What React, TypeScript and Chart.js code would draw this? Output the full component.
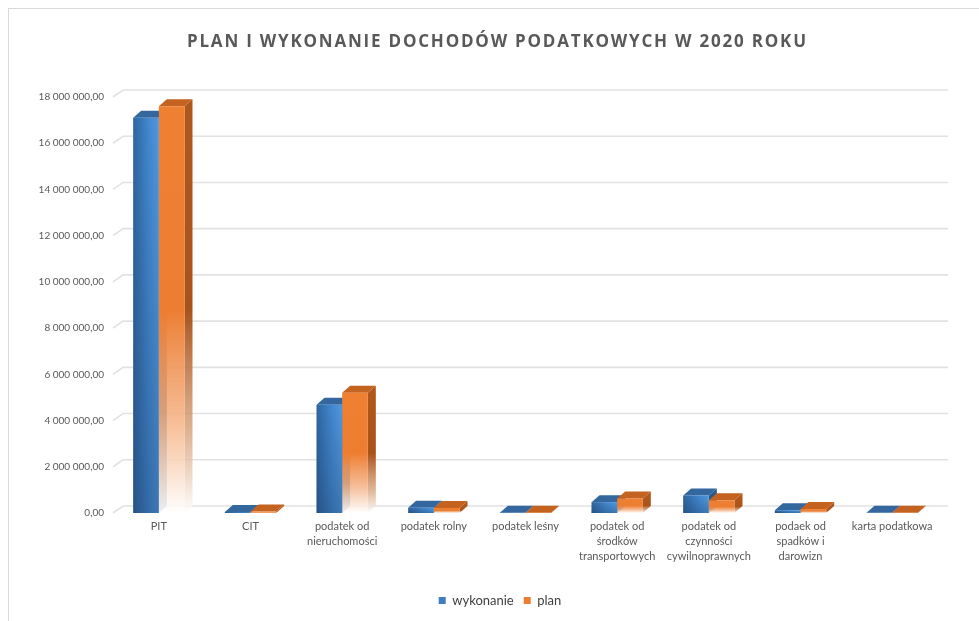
import React, { useEffect, useRef } from "react";
import { Chart, registerables } from "chart.js";

Chart.register(...registerables);

const TITLE = "PLAN I WYKONANIE DOCHODÓW PODATKOWYCH W 2020 ROKU";
const CATEGORIES: (string | string[])[] = [
  "PIT",
  "CIT",
  ["podatek od", "nieruchomości"],
  "podatek rolny",
  "podatek leśny",
  ["podatek od", "środków", "transportowych"],
  ["podatek od", "czynności", "cywilnoprawnych"],
  ["podaek od", "spadków i", "darowizn"],
  "karta podatkowa",
];
const SERIES_NAMES = ["wykonanie", "plan"];
const WYKONANIE = [17100000, 45000, 4680000, 230000, 12000, 470000, 760000, 120000, 8000];
const PLAN = [17600000, 60000, 5200000, 220000, 12000, 630000, 550000, 170000, 8000];
const Y_MIN = 0;
const Y_MAX = 18000000;
const Y_STEP = 2000000;

const CAT_PCT = 0.56;
const BAR_DX = 8;
const BAR_DY = -7;
const WALL_DX = 10;
const WALL_DY = -7;

const fmt = (v: number) =>
  Math.round(v).toString().replace(/\B(?=(\d{3})+(?!\d))/g, " ") + ",00";

function blueFront(c: any) {
  if (c.type !== "data") return "#4285c9";
  const chart = c.chart;
  const xs = chart.scales.x;
  if (!xs || !chart.chartArea) return "#4285c9";
  const center = xs.getPixelForValue(c.dataIndex);
  const bw = (xs.width / CATEGORIES.length) * CAT_PCT / 2;
  const l = center - bw;
  const g = chart.ctx.createLinearGradient(l, 0, l + bw, 0);
  g.addColorStop(0, "#2f65a0");
  g.addColorStop(0.6, "#4287cf");
  g.addColorStop(1, "#4f98e0");
  return g;
}

function orangeFront(c: any) {
  if (c.type !== "data") return "#ed7d31";
  const chart = c.chart;
  const ys = chart.scales.y;
  if (!ys || !chart.chartArea) return "#ed7d31";
  const top = ys.getPixelForValue(c.raw);
  const base = ys.getPixelForValue(0);
  const g = chart.ctx.createLinearGradient(0, top, 0, base);
  g.addColorStop(0, "#ef7f31");
  g.addColorStop(0.5, "#ed7d31");
  g.addColorStop(0.75, "rgba(243,170,120,0.85)");
  g.addColorStop(1, "rgba(255,255,255,0.9)");
  return g;
}

const threeD = {
  id: "threeD",
  beforeDatasetsDraw(chart: any) {
    const ctx = chart.ctx;
    const ys = chart.scales.y;
    const area = chart.chartArea;
    ctx.save();
    ctx.strokeStyle = "#e2e2e2";
    ctx.lineWidth = 1.6;
    ys.ticks.forEach((t: any) => {
      const y = ys.getPixelForValue(t.value);
      ctx.beginPath();
      ctx.moveTo(area.left, y);
      ctx.lineTo(area.left + WALL_DX, y + WALL_DY);
      ctx.lineTo(area.right + WALL_DX, y + WALL_DY);
      ctx.stroke();
    });
    chart.data.datasets.forEach((ds: any, d: number) => {
      const meta = chart.getDatasetMeta(d);
      meta.data.forEach((el: any) => {
        const { x, y, base, width } = el.getProps(["x", "y", "base", "width"], true);
        const l = x - width / 2;
        const r = x + width / 2;
        ctx.beginPath();
        ctx.moveTo(r, y);
        ctx.lineTo(r + BAR_DX, y + BAR_DY);
        ctx.lineTo(r + BAR_DX, base + BAR_DY);
        ctx.lineTo(r, base);
        ctx.closePath();
        if (d === 0) {
          ctx.fillStyle = "#2a5887";
        } else {
          const g = ctx.createLinearGradient(0, y, 0, base);
          g.addColorStop(0, "#b0571c");
          g.addColorStop(0.5, "#a9531b");
          g.addColorStop(0.8, "rgba(215,160,120,0.8)");
          g.addColorStop(1, "rgba(255,255,255,0.9)");
          ctx.fillStyle = g;
        }
        ctx.fill();
        ctx.beginPath();
        ctx.moveTo(l, y);
        ctx.lineTo(l + BAR_DX, y + BAR_DY);
        ctx.lineTo(r + BAR_DX, y + BAR_DY);
        ctx.lineTo(r, y);
        ctx.closePath();
        ctx.fillStyle = d === 0 ? "#33679d" : "#c4621f";
        ctx.fill();
      });
    });
    ctx.restore();
  },
  afterDatasetsDraw(chart: any) {
    const ctx = chart.ctx;
    const meta = chart.getDatasetMeta(0);
    ctx.save();
    meta.data.forEach((el: any) => {
      const { x, y, base, width } = el.getProps(["x", "y", "base", "width"], true);
      const l = x - width / 2;
      if (base - y < 1) return;
      const g = ctx.createLinearGradient(0, y, 0, base);
      g.addColorStop(0, "rgba(15,35,65,0)");
      g.addColorStop(1, "rgba(15,35,65,0.28)");
      ctx.fillStyle = g;
      ctx.fillRect(l, y, width, base - y);
    });
    ctx.restore();
  },
};

const spacedTitle = {
  id: "spacedTitle",
  afterDraw(chart: any) {
    const c = chart.ctx;
    c.save();
    c.font = 'bold 17px "Open Sans"';
    c.fillStyle = "#595959";
    c.textAlign = "left";
    c.textBaseline = "alphabetic";
    const w = c.measureText(TITLE).width;
    const target = 619;
    const sp = Math.max(0, (target - w) / (TITLE.length - 1));
    (c as any).letterSpacing = sp + "px";
    c.fillText(TITLE, 487.5 - target / 2, 37.7);
    c.restore();
  },
};

export default function App() {
  const ref = useRef<HTMLCanvasElement | null>(null);

  useEffect(() => {
    if (!ref.current) return;
    const chart = new Chart(ref.current, {
      type: "bar",
      data: {
        labels: CATEGORIES as any,
        datasets: [
          {
            label: SERIES_NAMES[0],
            data: WYKONANIE,
            backgroundColor: blueFront as any,
            borderWidth: 0,
            categoryPercentage: CAT_PCT,
            barPercentage: 1,
          },
          {
            label: SERIES_NAMES[1],
            data: PLAN,
            backgroundColor: orangeFront as any,
            borderWidth: 0,
            categoryPercentage: CAT_PCT,
            barPercentage: 1,
          },
        ],
      },
      options: {
        animation: false,
        responsive: false,
        layout: { padding: { top: 88, bottom: 4, left: 12, right: 0 } },
        plugins: {
          title: { display: false },
          tooltip: { enabled: false },
          legend: {
            position: "bottom",
            labels: {
              font: { family: "Lato", size: 13 },
              color: "#404040",
              boxWidth: 7,
              boxHeight: 7,
              padding: 10,
              generateLabels: () =>
                SERIES_NAMES.map((n, i) => ({
                  text: n,
                  fillStyle: i === 0 ? "#3f7dc0" : "#ed7d31",
                  strokeStyle: "rgba(0,0,0,0)",
                  lineWidth: 0,
                  hidden: false,
                  datasetIndex: i,
                  fontColor: "#404040",
                })),
            },
          },
        },
        scales: {
          x: {
            grid: { display: false, drawTicks: false },
            border: { display: false },
            ticks: {
              font: { family: "Lato", size: 11, lineHeight: 1.36 },
              color: "#595959",
              padding: 6,
              maxRotation: 0,
              autoSkip: false,
            },
            afterFit: (s: any) => {
              s.height = 71;
            },
          },
          y: {
            min: Y_MIN,
            max: Y_MAX,
            grid: { display: false, drawTicks: false },
            border: { display: false },
            ticks: {
              stepSize: Y_STEP,
              callback: (v: any) => fmt(Number(v)),
              font: { family: "Lato", size: 10 },
              color: "#595959",
              padding: 9,
            },
            afterFit: (s: any) => {
              s.width = 92;
            },
          },
          yRight: {
            position: "right",
            display: true,
            grid: { display: false, drawTicks: false },
            border: { display: false },
            ticks: { display: false },
            afterFit: (s: any) => {
              s.width = 41;
            },
          },
        },
      },
      plugins: [threeD, spacedTitle],
    });
    return () => chart.destroy();
  }, []);

  return (
    <div
      style={{
        position: "fixed",
        left: 8,
        top: 8,
        width: 971,
        height: 613,
        boxSizing: "border-box",
        borderLeft: "1px solid #d9d9d9",
        borderTop: "1px solid #d9d9d9",
        background: "#fff",
      }}
    >
      <canvas ref={ref} width={970} height={612} style={{ display: "block", width: 970, height: 612 }} />
    </div>
  );
}
